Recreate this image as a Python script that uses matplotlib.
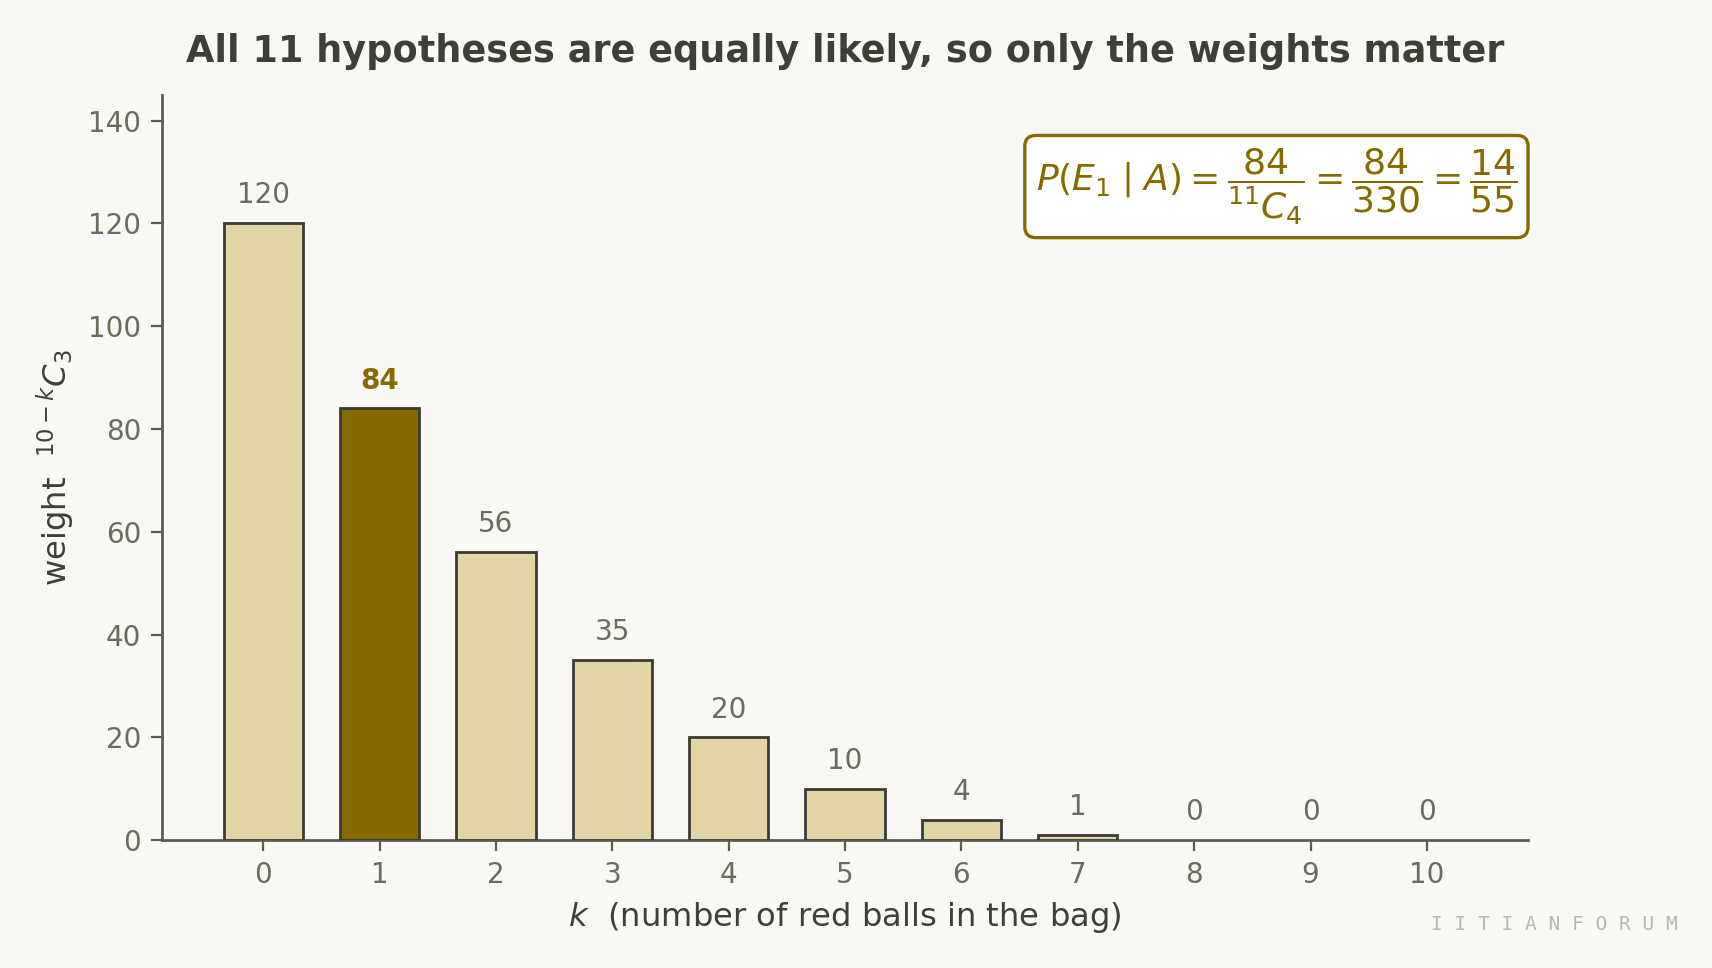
import numpy as np
import matplotlib
matplotlib.use("Agg")
import matplotlib.pyplot as plt

k_values = list(range(11))
weights = [120, 84, 56, 35, 20, 10, 4, 1, 0, 0, 0]
highlight_k = 1

title = "All 11 hypotheses are equally likely, so only the weights matter"
formula = r"$P(E_1\mid A) = \dfrac{84}{{}^{11}C_4} = \dfrac{84}{330} = \dfrac{14}{55}$"

bg = "#f9f8f4"
bar_light = "#e2d6a6"
bar_dark = "#866a00"
edge = "#3b3b33"
axis_col = "#5c5c50"
tick_col = "#6b6b5e"
text_col = "#3f3f38"

fig = plt.figure(figsize=(8.56, 4.84), dpi=200, facecolor=bg)
ax = fig.add_axes((0.0946, 0.132, 0.798, 0.77))
ax.set_facecolor(bg)

colors = [bar_dark if k == highlight_k else bar_light for k in k_values]
widths = [1.0 if w > 0 else 0 for w in weights]
ax.bar(k_values, weights, width=0.68, color=colors, edgecolor=edge, linewidth=widths, zorder=3)

for k, w in zip(k_values, weights):
    if k == highlight_k:
        ax.annotate(str(w), (k, w), xytext=(0, 5), textcoords="offset points",
                    ha="center", va="bottom", fontsize=10, fontweight="bold", color=bar_dark)
    else:
        ax.annotate(str(w), (k, w), xytext=(0, 5), textcoords="offset points",
                    ha="center", va="bottom", fontsize=10, color=tick_col)

ax.set_xlim(-0.87, 10.87)
ax.set_ylim(0, 145)
ax.set_xticks(k_values)
ax.set_yticks(np.arange(0, 141, 20))

for s in ["top", "right"]:
    ax.spines[s].set_visible(False)
for s in ["left", "bottom"]:
    ax.spines[s].set_color(axis_col)
    ax.spines[s].set_linewidth(1.0)
ax.tick_params(colors=axis_col, labelcolor=tick_col, labelsize=10, length=4)

ax.set_xlabel(r"$k$  (number of red balls in the bag)", fontsize=11.6, color=text_col)
ax.set_ylabel(r"weight  ${}^{10-k}C_3$", fontsize=11.6, color=text_col, labelpad=4)
ax.set_title(title, fontsize=13.2, fontweight="bold", color=text_col, pad=12)

ax.text(0.992, 0.877, formula, transform=ax.transAxes, ha="right", va="center",
        fontsize=13, color=bar_dark,
        bbox=dict(boxstyle="round,pad=0.3", facecolor="white", edgecolor=bar_dark, linewidth=1.2))

fig.text(0.98, 0.045, " ".join("IITIANFORUM"), ha="right", va="center",
         fontsize=7, family="DejaVu Sans Mono", color="#b8b8b0")

fig.savefig("out.png", dpi=200, facecolor=bg)
